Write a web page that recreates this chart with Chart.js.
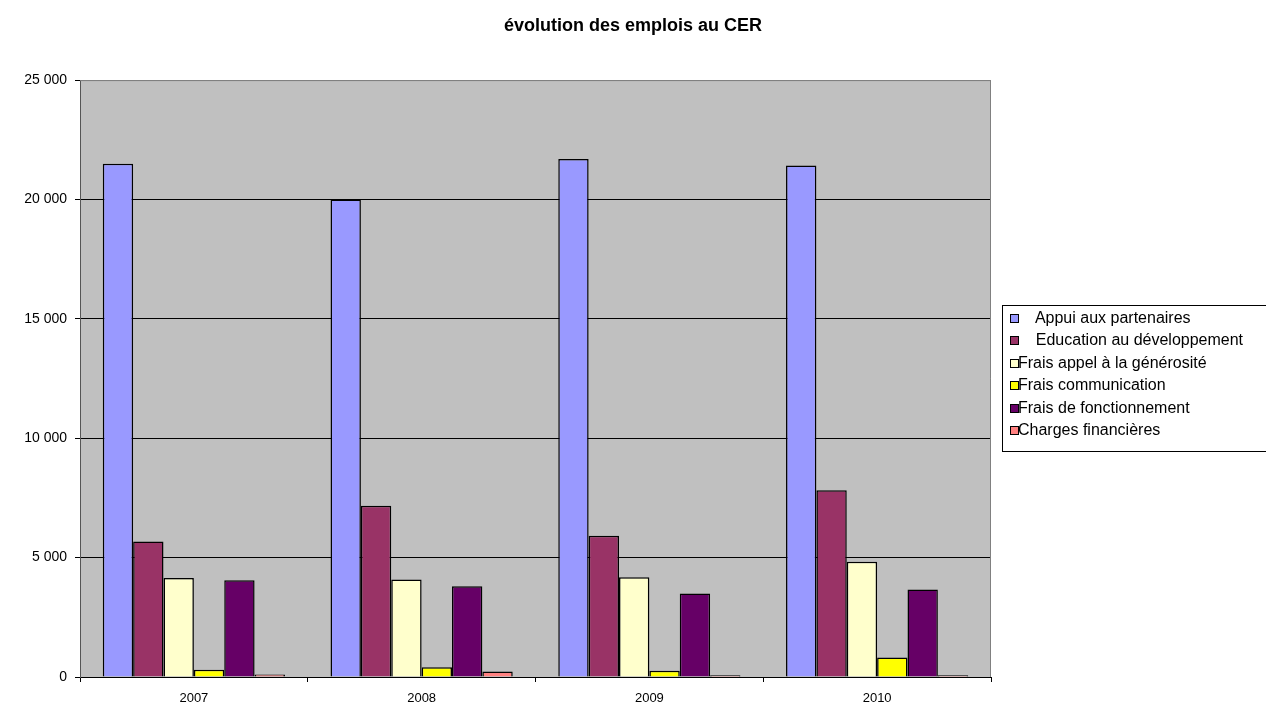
<!DOCTYPE html>
<html>
<head>
<meta charset="utf-8">
<script src="https://cdn.jsdelivr.net/npm/chart.js@4"></script>
<style>
    body { margin: 0; background: #fff; }
    #wrap { position: relative; width: 1266px; height: 708px; }
    #legend {
        position: absolute; left: 1002px; top: 305px; width: 280px; height: 147px;
        border: 1px solid #000; box-sizing: border-box;
        font-family: Arial, "Liberation Sans", sans-serif; font-size: 16px; color: #000;
        padding-top: 1px;
    }
    #legend .item { height: 22.4px; line-height: 22.4px; white-space: pre; position: relative; padding-left: 15px; }
    #legend .box { position: absolute; left: 7px; top: 7px; width: 7px; height: 7px; border: 1px solid #000; }
</style>
</head>
<body>
<div id="wrap">
    <canvas id="myChart"></canvas>
    <div id="legend"></div>
</div>
<script>
const categories = ['2007', '2008', '2009', '2010'];
const seriesNames = ['    Appui aux partenaires', '    Education au développement', 'Frais appel à la générosité', 'Frais communication', 'Frais de fonctionnement', 'Charges financières'];
const appui = [21500, 20000, 21700, 21420];
const education = [5680, 7170, 5920, 7820];
const fraisAppel = [4150, 4080, 4180, 4830];
const communication = [300, 410, 260, 820];
const fonctionnement = [4050, 3800, 3500, 3670];
const charges = [100, 230, 70, 70];
const yTicks = [0, 5000, 10000, 15000, 20000, 25000];

const colors = ['#9999ff', '#993366', '#ffffcc', '#ffff00', '#660066', '#ff8080'];
const values = [appui, education, fraisAppel, communication, fonctionnement, charges];
const fontFamily = 'Arial, "Liberation Sans", sans-serif';

function spaced(v) {
    return String(v).replace(/\B(?=(\d{3})+(?!\d))/g, ' ');
}

const plotArea = {
    id: 'plotArea',
    beforeDraw: function (chart) {
        const a = chart.chartArea;
        const ctx = chart.ctx;
        ctx.save();
        ctx.fillStyle = '#c0c0c0';
        ctx.fillRect(a.left, a.top, a.right - a.left, a.bottom - a.top);
        ctx.restore();
    },
    afterDraw: function (chart) {
        const a = chart.chartArea;
        const ctx = chart.ctx;
        ctx.save();
        ctx.strokeStyle = '#808080';
        ctx.lineWidth = 1;
        ctx.beginPath();
        ctx.moveTo(a.left, a.top + 0.5);
        ctx.lineTo(a.right - 0.5, a.top + 0.5);
        ctx.lineTo(a.right - 0.5, a.bottom);
        ctx.stroke();
        ctx.restore();
    }
};

const chartData = {
    labels: categories,
    datasets: values.map(function (data, i) {
        return {
            label: seriesNames[i],
            data: data,
            backgroundColor: colors[i],
            borderColor: '#000',
            borderWidth: 1.5,
            categoryPercentage: 0.8,
            barPercentage: 1.0
        };
    })
};

const chartConfig = {
    type: 'bar',
    data: chartData,
    options: {
        responsive: true,
        maintainAspectRatio: false,
        animation: false,
        layout: { padding: 0 },
        scales: {
            x: {
                afterFit: function (scale) { scale.height = 31; },
                grid: {
                    offset: true,
                    drawOnChartArea: false,
                    color: '#000',
                    tickLength: 5
                },
                border: { color: '#000' },
                ticks: {
                    color: '#000',
                    padding: 9,
                    font: { family: fontFamily, size: 13 }
                }
            },
            y: {
                min: 0,
                max: 25000,
                afterFit: function (scale) { scale.width = 80; },
                afterBuildTicks: function (scale) {
                    scale.ticks = yTicks.map(function (v) { return { value: v }; });
                },
                grid: {
                    color: function (c) { return c.tick && c.tick.value === 25000 ? '#808080' : '#000'; },
                    tickColor: '#000',
                    tickLength: 5
                },
                border: { color: '#555' },
                ticks: {
                    color: '#000',
                    padding: 8,
                    font: { family: fontFamily, size: 14 },
                    callback: function (value) {
                        return spaced(value);
                    }
                }
            },
            // empty space on the right for the legend, so the title stays centred on the page
            spacer: {
                type: 'linear',
                position: 'right',
                afterFit: function (scale) { scale.width = 275; },
                grid: { display: false },
                border: { display: false },
                ticks: { display: false }
            }
        },
        plugins: {
            legend: { display: false },
            tooltip: { enabled: false },
            title: {
                display: true,
                text: 'évolution des emplois au CER',
                color: '#000',
                font: { family: fontFamily, size: 18, weight: 'bold' },
                padding: { top: 15, bottom: 43.5 }
            }
        }
    },
    plugins: [plotArea]
};

const ctx = document.getElementById('myChart').getContext('2d');
const myChart = new Chart(ctx, chartConfig);

// legend built from the chart's datasets
const legendEl = document.getElementById('legend');
myChart.data.datasets.forEach(function (ds) {
    const item = document.createElement('div');
    item.className = 'item';
    const box = document.createElement('span');
    box.className = 'box';
    box.style.background = ds.backgroundColor;
    item.appendChild(box);
    item.appendChild(document.createTextNode(ds.label));
    legendEl.appendChild(item);
});
</script>
</body>
</html>
